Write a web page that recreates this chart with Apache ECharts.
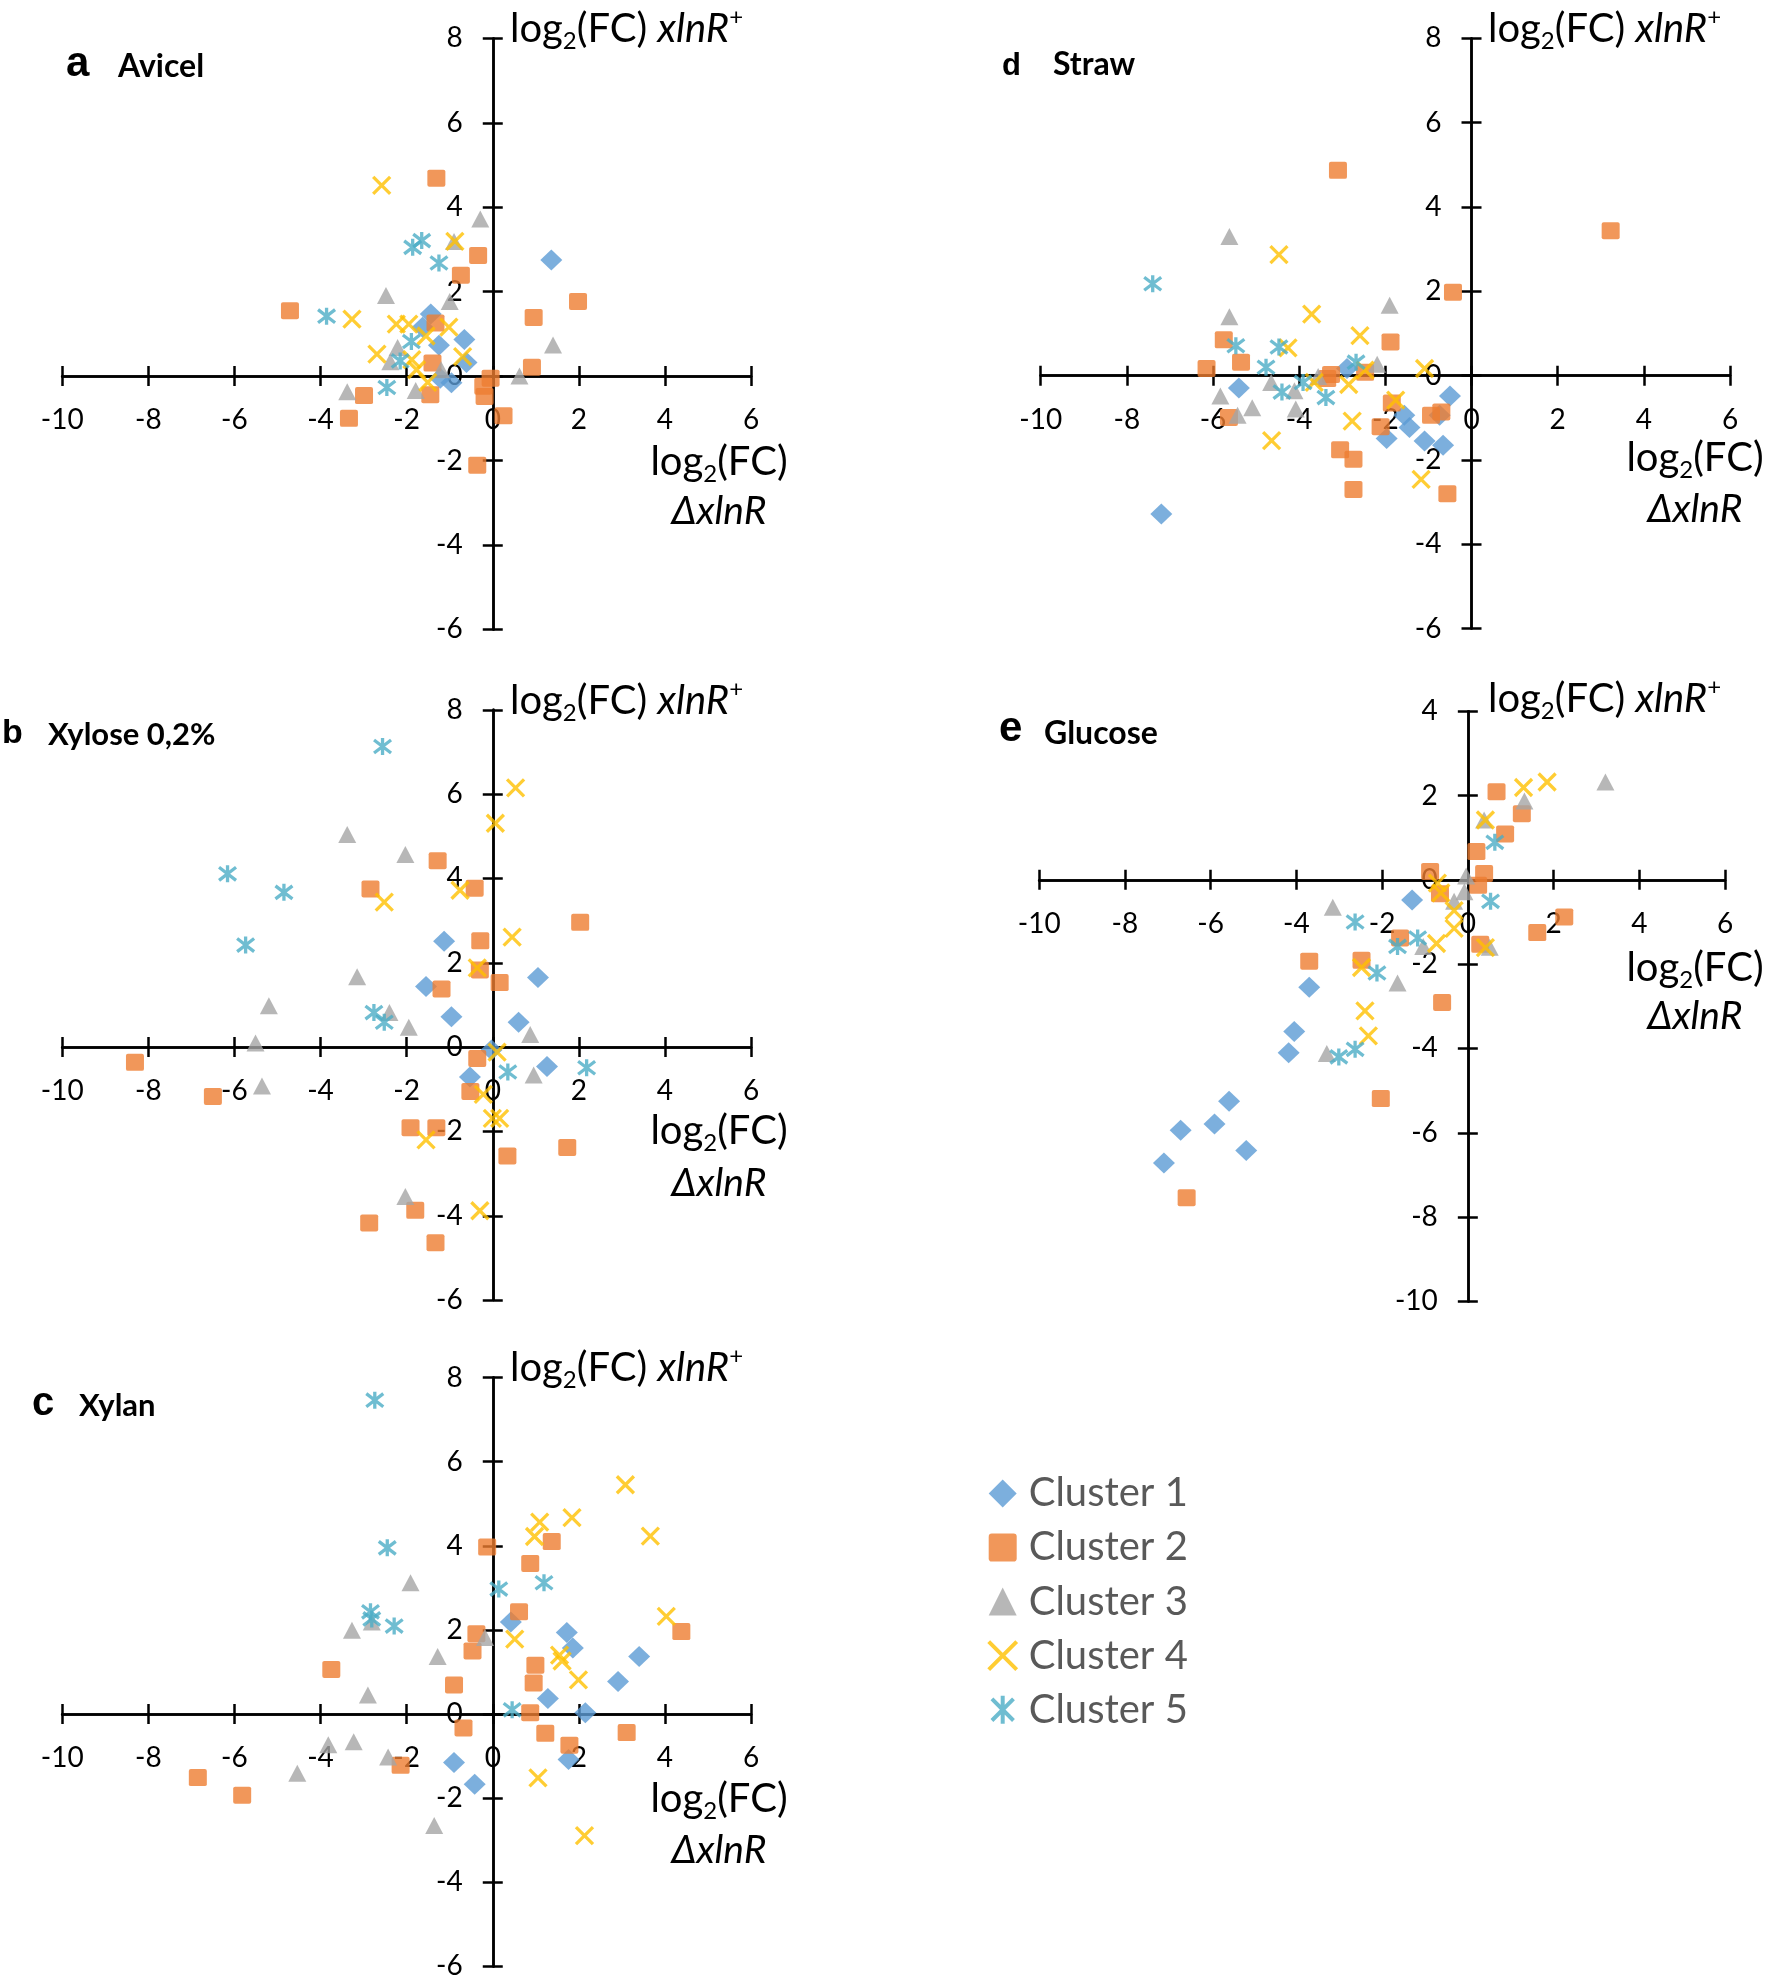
<!DOCTYPE html>
<html><head><meta charset="utf-8">
<script src="https://cdn.jsdelivr.net/npm/echarts@6/dist/echarts.min.js"></script>
<style>html,body{margin:0;padding:0;background:#fff}#c{width:1773px;height:1987px}</style>
</head><body><div id="c"></div>
<script>
const clusters = ['Cluster 1','Cluster 2','Cluster 3','Cluster 4','Cluster 5'];

// a  Avicel
const avicelC1 = [[1.36,2.75],[-1.44,1.47],[-1.63,1.16],[-1.25,0.73],[-0.66,0.87],[-0.61,0.32],[-1.22,-0.05],[-0.96,-0.16]];
const avicelC2 = [[-1.31,4.69],[-0.34,2.86],[-0.74,2.39],[-4.71,1.55],[1.98,1.77],[0.95,1.39],[-1.33,1.26],[0.91,0.21],[-1.40,0.31],[-1.45,-0.44],[-2.99,-0.46],[-3.34,-1.0],[-0.05,-0.05],[-0.22,-0.24],[-0.19,-0.48],[0.25,-0.94],[-0.36,-2.11]];
const avicelC3 = [[-0.29,3.72],[-0.90,3.19],[-2.48,1.91],[-1.0,1.77],[1.40,0.74],[-2.21,0.68],[-2.38,0.34],[-1.20,0.15],[0.62,0.0],[-3.38,-0.37],[-1.79,-0.34]];
const avicelC4 = [[-2.58,4.52],[-0.88,3.19],[-3.27,1.35],[-2.24,1.23],[-1.95,1.23],[-1.02,1.16],[-1.55,0.95],[-2.69,0.52],[-0.70,0.46],[-1.88,0.39],[-1.77,0.15],[-1.51,-0.15]];
const avicelC5 = [[-1.65,3.21],[-1.86,3.05],[-1.25,2.68],[-3.86,1.42],[-1.89,0.82],[-2.15,0.36],[-2.46,-0.27]];

// b  Xylose 0,2%
const xyloseC1 = [[-1.13,2.51],[-1.55,1.44],[1.05,1.65],[-0.96,0.72],[0.60,0.59],[-0.03,-0.07],[1.26,-0.46],[-0.53,-0.71]];
const xyloseC2 = [[-1.28,4.42],[-2.84,3.75],[-0.42,3.77],[2.03,2.96],[-0.29,2.52],[-0.30,1.83],[0.16,1.53],[-1.19,1.38],[-8.31,-0.36],[-0.36,-0.27],[-6.50,-1.17],[-0.52,-1.05],[-1.91,-1.91],[-1.31,-1.91],[1.73,-2.38],[0.34,-2.58],[-1.80,-3.87],[-2.87,-4.17],[-1.33,-4.64]];
const xyloseC3 = [[-3.38,5.04],[-2.03,4.57],[-3.15,1.67],[-5.20,0.98],[-2.40,0.82],[-1.95,0.47],[-5.51,0.10],[0.87,0.30],[0.95,-0.66],[-5.36,-0.92],[-2.03,-3.54]];
const xyloseC4 = [[0.53,6.15],[0.06,5.31],[-0.76,3.72],[-2.52,3.44],[0.45,2.61],[-0.36,1.88],[0.10,-0.12],[-0.22,-1.12],[-0.01,-1.69],[0.16,-1.69],[-1.55,-2.20],[-0.30,-3.88]];
const xyloseC5 = [[-2.56,7.13],[-6.16,4.11],[-4.85,3.67],[-5.74,2.42],[-2.76,0.82],[-2.52,0.59],[0.35,-0.59],[2.18,-0.49]];

// c  Xylan
const xylanC1 = [[0.42,2.19],[1.72,1.94],[1.86,1.57],[3.40,1.37],[2.91,0.77],[1.28,0.37],[2.15,0.03],[-0.90,-1.15],[1.76,-1.08],[-0.42,-1.67]];
const xylanC2 = [[-0.13,3.97],[1.37,4.10],[0.87,3.58],[0.61,2.43],[4.38,1.96],[-0.38,1.91],[-0.47,1.50],[-3.75,1.06],[0.99,1.16],[-0.90,0.69],[0.95,0.74],[0.87,0.03],[-0.68,-0.33],[1.22,-0.46],[3.11,-0.44],[1.78,-0.74],[-2.14,-1.22],[-6.85,-1.51],[-5.82,-1.93]];
const xylanC3 = [[-1.91,3.12],[-3.27,1.99],[-2.81,2.19],[-0.18,1.82],[-1.28,1.37],[-2.90,0.45],[-3.82,-0.73],[-3.23,-0.66],[-2.43,-1.02],[-4.54,-1.41],[-1.36,-2.65]];
const xylanC4 = [[3.08,5.45],[1.84,4.67],[1.09,4.56],[0.97,4.22],[3.66,4.23],[4.03,2.32],[0.51,1.78],[1.55,1.40],[1.61,1.26],[1.99,0.81],[1.05,-1.52],[2.13,-2.89]];
const xylanC5 = [[-2.74,7.46],[-2.45,3.95],[0.14,2.97],[1.19,3.12],[-2.84,2.43],[-2.81,2.26],[-2.29,2.09],[0.45,0.10]];

// d  Straw
const strawC1 = [[-7.20,-3.28],[-5.40,-0.29],[-2.89,0.17],[-0.50,-0.48],[-1.56,-0.94],[-1.44,-1.23],[-1.97,-1.49],[-1.09,-1.55],[-0.66,-1.65],[-0.74,-0.94]];
const strawC2 = [[-3.10,4.87],[3.23,3.44],[-0.43,1.98],[-1.88,0.80],[-5.75,0.85],[-5.35,0.32],[-6.15,0.17],[-3.26,0.03],[-3.35,-0.07],[-2.47,0.08],[-5.63,-0.99],[-1.85,-0.65],[-0.94,-0.94],[-0.70,-0.86],[-2.11,-1.21],[-3.05,-1.76],[-2.74,-1.98],[-2.74,-2.70],[-0.56,-2.80]];
const strawC3 = [[-5.62,3.30],[-5.62,1.40],[-1.90,1.67],[-2.19,0.27],[-3.56,-0.02],[-4.65,-0.16],[-5.83,-0.48],[-5.09,-0.76],[-5.43,-0.94],[-4.08,-0.79],[-4.11,-0.36]];
const strawC4 = [[-4.47,2.87],[-3.71,1.46],[-2.59,0.95],[-4.26,0.66],[-1.09,0.17],[-2.47,0.13],[-3.65,-0.16],[-2.85,-0.21],[-1.76,-0.58],[-2.77,-1.08],[-4.64,-1.54],[-1.17,-2.46]];
const strawC5 = [[-7.40,2.18],[-5.47,0.71],[-4.47,0.68],[-4.77,0.20],[-2.68,0.32],[-3.91,-0.16],[-4.40,-0.39],[-3.38,-0.52]];

// e  Glucose
const glucoseC1 = [[-1.30,-0.48],[-3.70,-2.55],[-4.05,-3.60],[-4.18,-4.10],[-5.57,-5.25],[-5.91,-5.79],[-6.70,-5.94],[-5.17,-6.42],[-7.09,-6.72]];
const glucoseC2 = [[0.67,2.09],[1.26,1.57],[0.87,1.09],[0.20,0.67],[0.38,0.15],[-0.88,0.20],[0.24,-0.13],[-0.65,-0.33],[2.25,-0.88],[1.62,-1.25],[-1.58,-1.38],[0.29,-1.53],[-3.70,-1.93],[-2.48,-1.91],[-0.60,-2.91],[-2.03,-5.19],[-6.56,-7.54]];
const glucoseC3 = [[3.21,2.32],[1.32,1.87],[0.38,1.42],[-0.04,0.09],[-0.08,-0.28],[-0.32,-0.51],[-3.15,-0.65],[-1.04,-1.58],[0.51,-1.60],[-1.64,-2.45],[-3.29,-4.12]];
const glucoseC4 = [[1.85,2.32],[1.30,2.19],[0.41,1.42],[-0.71,-0.08],[-0.63,-0.31],[-0.32,-0.73],[-0.32,-1.15],[-0.73,-1.51],[0.41,-1.61],[-2.48,-2.08],[-2.40,-3.11],[-2.32,-3.70]];
const glucoseC5 = [[0.63,0.89],[0.53,-0.51],[-2.63,-1.00],[-1.17,-1.38],[-1.64,-1.58],[-2.12,-2.21],[-2.63,-4.02],[-3.01,-4.20]];

const xRange = [-10, 6];
const yRangeStd = [-6, 8];
const yRangeGlucose = [-10, 4];
const tickStep = 2;

const FONT = "Lato, 'Noto Sans', sans-serif";
const XPATH = 'path://M0,0L10,10M10,0L0,10';
const STARPATH = 'path://M0,0L10,10M10,0L0,10M5,-1.5L5,11.5';
const RSQPATH = 'path://M2,0H16Q18,0,18,2V16Q18,18,16,18H2Q0,18,0,16V2Q0,0,2,0Z';

const clusterStyles = [
  {symbol:'diamond', symbolSize:[22,21], itemStyle:{color:'#5B9BD5'}},
  {symbol:RSQPATH, symbolSize:[18,17], itemStyle:{color:'#ED7D31'}},
  {symbol:'triangle', symbolSize:[18,17], itemStyle:{color:'#A5A5A5'}},
  {symbol:XPATH, symbolSize:[17,17], itemStyle:{color:'rgba(0,0,0,0)', borderColor:'#FFC000', borderWidth:3.3}},
  {symbol:STARPATH, symbolSize:[17,17], itemStyle:{color:'rgba(0,0,0,0)', borderColor:'#4BACC6', borderWidth:3.3}}
];

const panels = [
  {grid:{left:62.2, top:38.4, width:688.9, height:591}, yr:yRangeStd, data:[avicelC1,avicelC2,avicelC3,avicelC4,avicelC5]},
  {grid:{left:62.2, top:709.8, width:688.9, height:590.3}, yr:yRangeStd, data:[xyloseC1,xyloseC2,xyloseC3,xyloseC4,xyloseC5]},
  {grid:{left:62.2, top:1377.5, width:688.9, height:588.9}, yr:yRangeStd, data:[xylanC1,xylanC2,xylanC3,xylanC4,xylanC5]},
  {grid:{left:1040.7, top:38.4, width:689.3, height:590.2}, yr:yRangeStd, data:[strawC1,strawC2,strawC3,strawC4,strawC5]},
  {grid:{left:1039.2, top:711.2, width:685.8, height:590.2}, yr:yRangeGlucose, data:[glucoseC1,glucoseC2,glucoseC3,glucoseC4,glucoseC5]}
];

const lineSt = {color:'#000', width:2.5};
const labelSt = {fontSize:28, fontFamily:FONT, color:'#000'};
const grids = [], xAxes = [], yAxes = [], series = [];
panels.forEach((p, gi) => {
  const g = p.grid;
  grids.push(g);
  // pixel distance of the zero lines from the grid edges (axes cross at the origin)
  const zeroFromTop = g.height * p.yr[1] / (p.yr[1] - p.yr[0]);
  const zeroFromLeft = g.width * (0 - xRange[0]) / (xRange[1] - xRange[0]);
  const baseX = {gridIndex:gi, type:'value', min:xRange[0], max:xRange[1], interval:tickStep,
    splitLine:{show:false}, axisLine:{show:true, onZero:false, lineStyle:lineSt},
    axisTick:{show:true, length:10, lineStyle:lineSt}};
  xAxes.push(Object.assign({}, baseX, {position:'bottom', offset:-(g.height - zeroFromTop),
    axisLabel:Object.assign({show:true, margin:30}, labelSt)}));
  xAxes.push(Object.assign({}, baseX, {position:'top', offset:-zeroFromTop, axisLabel:{show:false}}));
  const baseY = {gridIndex:gi, type:'value', min:p.yr[0], max:p.yr[1], interval:tickStep,
    splitLine:{show:false}, axisLine:{show:true, onZero:false, lineStyle:lineSt},
    axisTick:{show:true, length:10, lineStyle:lineSt}};
  yAxes.push(Object.assign({}, baseY, {position:'left', offset:-zeroFromLeft,
    axisLabel:Object.assign({show:true, margin:30}, labelSt)}));
  yAxes.push(Object.assign({}, baseY, {position:'right', offset:-(g.width - zeroFromLeft), axisLabel:{show:false}}));
  p.data.forEach((d, ci) => {
    series.push(Object.assign({type:'scatter', name:clusters[ci], xAxisIndex:2*gi, yAxisIndex:2*gi,
      data:d, silent:true}, clusterStyles[ci]));
  });
});

const richTitle = {
  n:{fontSize:40, fontFamily:FONT, lineHeight:48, fill:'#000', color:'#000'},
  s:{fontSize:24, fontFamily:FONT, lineHeight:23, verticalAlign:'bottom', fill:'#000', color:'#000'},
  i:{fontSize:40, fontFamily:FONT, fontStyle:'italic', lineHeight:48, fill:'#000', color:'#000'},
  p:{fontSize:24, fontFamily:FONT, lineHeight:31, verticalAlign:'top', fill:'#000', color:'#000'}
};
function topTitle(x, y) {
  return {type:'text', x:x, y:y, silent:true, style:{text:'{n|log}{s|2}{n|(FC) }{i|xlnR}{p|+}', rich:richTitle,
    align:'left', verticalAlign:'middle', fill:'#000'}};
}
function bottomTitle(x, y1, y2) {
  return [
    {type:'text', x:x, y:y1, silent:true, style:{text:'{n|log}{s|2}{n|(FC)}', rich:richTitle, align:'center', verticalAlign:'middle', fill:'#000'}},
    {type:'text', x:x, y:y2, silent:true, style:{text:'ΔxlnR', font:"italic 39px " + FONT, align:'center', verticalAlign:'middle', fill:'#000'}}
  ];
}
function panelLabel(letter, lx, ly, lsize, name, nx, ny, nsize) {
  return [
    {type:'text', x:lx, y:ly, silent:true, style:{text:letter, font:"bold " + lsize + "px 'Liberation Sans', Arial, sans-serif", align:'left', verticalAlign:'middle', fill:'#000'}},
    {type:'text', x:nx, y:ny, silent:true, style:{text:name, font:"bold " + nsize + "px " + FONT, align:'left', verticalAlign:'middle', fill:'#000'}}
  ];
}

const graphics = [].concat(
  topTitle(510, 29), topTitle(510, 701), topTitle(510, 1368), topTitle(1488, 29), topTitle(1488, 699),
  bottomTitle(719, 462, 511), bottomTitle(719, 1131, 1183), bottomTitle(719, 1799, 1850),
  bottomTitle(1695, 458, 509), bottomTitle(1695, 968, 1016),
  panelLabel('a', 66, 64.5, 42, 'Avicel', 118, 67, 32),
  panelLabel('b', 2, 734, 34, 'Xylose 0,2%', 48, 734.5, 31),
  panelLabel('c', 32, 1404, 40, 'Xylan', 79, 1406, 31),
  panelLabel('d', 1002, 66, 31, 'Straw', 1053, 65, 32),
  panelLabel('e', 999, 729.5, 42, 'Glucose', 1044, 733.5, 32)
);

const legendItems = clusters.map((c, i) => (i >= 3 ? {name:c, itemStyle:{borderWidth:4}} : {name:c}));

const chart = echarts.init(document.getElementById('c'), null, {renderer:'canvas'});
chart.setOption({
  animation:false,
  backgroundColor:'#fff',
  grid:grids, xAxis:xAxes, yAxis:yAxes, series:series,
  legend:{orient:'vertical', left:986.7, top:1473.5, itemWidth:28, itemHeight:28, itemGap:14.05, padding:0,
    selectedMode:false, data:legendItems,
    textStyle:{fontSize:40, fontFamily:FONT, color:'#595959', lineHeight:28, padding:[0,0,0,7]}},
  graphic:graphics
});
</script></body></html>
